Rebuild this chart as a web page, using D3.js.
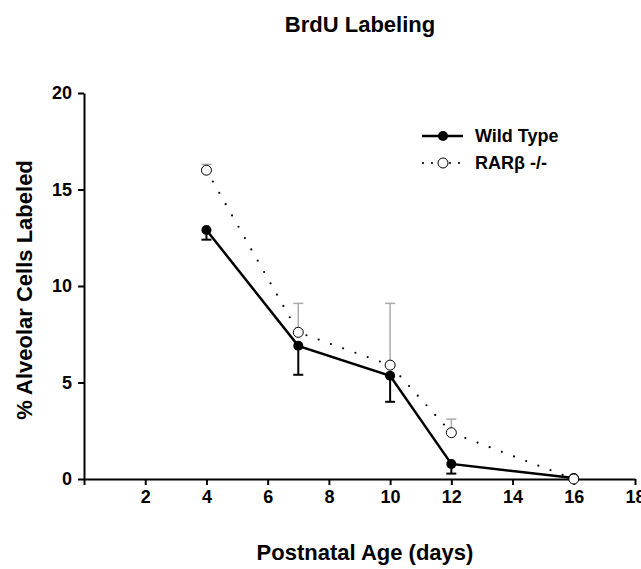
<!DOCTYPE html>
<meta charset="utf-8">
<style>
body { margin: 0; background: #fff; }
svg text { font-family: "Liberation Sans", Arial, sans-serif; font-weight: bold; fill: #000; }
.axis path, .axis line { stroke: #000; stroke-width: 2px; }
.axis text { font-size: 18px; }
</style>
<body>
<script src="https://cdn.jsdelivr.net/npm/d3@7"></script>
<script>

var days = [4, 7, 10, 12, 16];

// Wild Type: mean and lower error (drawn downward)
var wildType = [12.9, 6.9, 5.35, 0.78, 0.05];
var wildTypeErr = [0.5, 1.5, 1.35, 0.5, 0];

// RARβ -/-: mean and upper error (drawn upward)
var rarb = [16.0, 7.6, 5.9, 2.4, 0];
var rarbErr = [0.3, 1.5, 3.2, 0.7, 0];

var xTicks = [0, 2, 4, 6, 8, 10, 12, 14, 16, 18];
var xTickLabels = ["", "2", "4", "6", "8", "10", "12", "14", "16", "18"];
var yTicks = [0, 5, 10, 15, 20];

var width = 641,
    height = 569;

var x = d3.scaleLinear().domain([0, 18]).range([84, 635]);
var y = d3.scaleLinear().domain([0, 20]).range([479, 93]);

var svg = d3.select("body").append("svg")
    .attr("width", width)
    .attr("height", height);

// title
svg.append("text")
    .attr("x", 360)
    .attr("y", 32)
    .attr("text-anchor", "middle")
    .style("font-size", "22px")
    .text("BrdU Labeling");

// axes
var xAxis = d3.axisBottom(x)
    .tickValues(xTicks)
    .tickFormat(function(d, i) { return xTickLabels[i]; })
    .tickSize(6)
    .tickSizeOuter(0)
    .tickPadding(5);

var yAxis = d3.axisLeft(y)
    .tickValues(yTicks)
    .tickSize(6)
    .tickSizeOuter(0)
    .tickPadding(6);

svg.append("g")
    .attr("class", "axis")
    .attr("transform", "translate(0," + y(0) + ")")
    .call(xAxis);

svg.append("g")
    .attr("class", "axis")
    .attr("transform", "translate(" + x(0) + ",0)")
    .call(yAxis);

svg.selectAll(".axis text").style("font-family", null);

// axis titles
svg.append("text")
    .attr("x", 365)
    .attr("y", 560)
    .attr("text-anchor", "middle")
    .style("font-size", "22px")
    .text("Postnatal Age (days)");

svg.append("text")
    .attr("transform", "translate(32,290) rotate(-90)")
    .attr("text-anchor", "middle")
    .style("font-size", "22px")
    .text("% Alveolar Cells Labeled");

var line = d3.line()
    .x(function(d) { return x(d[0]); })
    .y(function(d) { return y(d[1]); });

var wtData = days.map(function(d, i) { return [d, wildType[i], wildTypeErr[i]]; });
var rarData = days.map(function(d, i) { return [d, rarb[i], rarbErr[i]]; });

// RAR error bars (grey, upward)
var rarErrG = svg.append("g").selectAll("g")
    .data(rarData.filter(function(d) { return d[2] > 0; }))
    .enter().append("g")
    .attr("stroke", "#aaa")
    .attr("stroke-width", 1.5);
rarErrG.append("line")
    .attr("x1", function(d) { return x(d[0]); })
    .attr("x2", function(d) { return x(d[0]); })
    .attr("y1", function(d) { return y(d[1]); })
    .attr("y2", function(d) { return y(d[1] + d[2]); });
rarErrG.append("line")
    .attr("x1", function(d) { return x(d[0]) - 5; })
    .attr("x2", function(d) { return x(d[0]) + 5; })
    .attr("y1", function(d) { return y(d[1] + d[2]); })
    .attr("y2", function(d) { return y(d[1] + d[2]); });

// WT error bars (black, downward)
var wtErrG = svg.append("g").selectAll("g")
    .data(wtData.filter(function(d) { return d[2] > 0; }))
    .enter().append("g")
    .attr("stroke", "#000")
    .attr("stroke-width", 2);
wtErrG.append("line")
    .attr("x1", function(d) { return x(d[0]); })
    .attr("x2", function(d) { return x(d[0]); })
    .attr("y1", function(d) { return y(d[1]); })
    .attr("y2", function(d) { return y(d[1] - d[2]); });
wtErrG.append("line")
    .attr("x1", function(d) { return x(d[0]) - 5; })
    .attr("x2", function(d) { return x(d[0]) + 5; })
    .attr("y1", function(d) { return y(d[1] - d[2]); })
    .attr("y2", function(d) { return y(d[1] - d[2]); });

// lines
svg.append("path")
    .datum(wtData)
    .attr("fill", "none")
    .attr("stroke", "#000")
    .attr("stroke-width", 2.5)
    .attr("d", line);

svg.append("path")
    .datum(rarData)
    .attr("fill", "none")
    .attr("stroke", "#000")
    .attr("stroke-width", 2.2)
    .attr("stroke-linecap", "round")
    .attr("stroke-dasharray", "0,13")
    .attr("d", line);

// markers
svg.append("g").selectAll("circle")
    .data(wtData)
    .enter().append("circle")
    .attr("cx", function(d) { return x(d[0]); })
    .attr("cy", function(d) { return y(d[1]); })
    .attr("r", 5)
    .attr("fill", "#000");

svg.append("g").selectAll("circle")
    .data(rarData)
    .enter().append("circle")
    .attr("cx", function(d) { return x(d[0]); })
    .attr("cy", function(d) { return y(d[1]); })
    .attr("r", 5)
    .attr("fill", "#fff")
    .attr("stroke", "#000")
    .attr("stroke-width", 1);

// legend
var legend = svg.append("g").attr("transform", "translate(422,0)");
legend.append("line")
    .attr("x1", 0).attr("x2", 41)
    .attr("y1", 136).attr("y2", 136)
    .attr("stroke", "#000").attr("stroke-width", 2.5);
legend.append("circle")
    .attr("cx", 21).attr("cy", 136).attr("r", 5).attr("fill", "#000");
legend.append("text")
    .attr("x", 53).attr("y", 142)
    .style("font-size", "18px")
    .text("Wild Type");

legend.append("line")
    .attr("x1", 1).attr("x2", 41)
    .attr("y1", 163).attr("y2", 163)
    .attr("stroke", "#000").attr("stroke-width", 2.2)
    .attr("stroke-linecap", "round")
    .attr("stroke-dasharray", "0,9");
legend.append("circle")
    .attr("cx", 21).attr("cy", 163).attr("r", 5)
    .attr("fill", "#fff").attr("stroke", "#000").attr("stroke-width", 1);
legend.append("text")
    .attr("x", 53).attr("y", 169)
    .style("font-size", "18px")
    .text("RARβ -/-");

</script>
</body>
